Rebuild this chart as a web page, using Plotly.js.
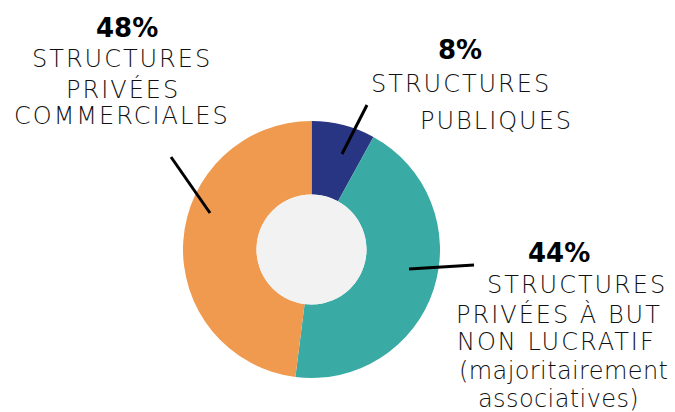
<!DOCTYPE html>
<html>
<head>
<meta charset="utf-8">
<script src="https://cdn.plot.ly/plotly-3.0.1.min.js"></script>
<style>html,body{margin:0;padding:0;background:#fff;}#chart{width:675px;height:412px;}</style>
</head>
<body>
<div id="chart"></div>
<script>
var categories = ["STRUCTURES PUBLIQUES", "STRUCTURES PRIVÉES À BUT NON LUCRATIF (majoritairement associatives)", "STRUCTURES PRIVÉES COMMERCIALES"];
var values = [8, 44, 48];
var colors = ["#283583", "#3AAAA5", "#F09A50"];
var pctLabels = ["8%", "44%", "48%"];
var labelLines = [
  ["STRUCTURES", "PUBLIQUES"],
  ["STRUCTURES", "PRIVÉES À BUT", "NON LUCRATIF", "(majoritairement", "associatives)"],
  ["STRUCTURES", "PRIVÉES", "COMMERCIALES"]
];

var W = 675, H = 412;
function fx(p){ return p / W; }
function fy(p){ return 1 - p / H; }

var cx = 311.5, cy = 249.5, R = 128.5, r = 55;

var FONT = "DejaVu Sans";
var pctFont = {family: FONT, size: 26, color: "#000", weight: 700};
var lblFont = {family: FONT, size: 24, color: "#111", weight: 200};

// label positions (center x, center y in px)
var pctPos = [[460, 50], [559, 253], [127, 28]];
var linePos = [
  [[461, 84], [496, 121]],
  [[577, 285], [559, 314], [556, 342], [563, 371], [558, 399]],
  [[122, 59], [123, 89], [122, 116]]
];
var leaders = [
  [[367, 105], [342, 154]],
  [[409, 269], [474, 265]],
  [[171, 157], [210, 213]]
];

function spaced(t){
  var ls = (t === t.toUpperCase()) ? "2px" : "0.4px";
  return '<span style="letter-spacing:' + ls + '">' + t + '</span>';
}

var annotations = [];
for (var i = 0; i < categories.length; i++) {
  annotations.push({xref:"paper", yref:"paper", x: fx(pctPos[i][0]), y: fy(pctPos[i][1]),
    text: pctLabels[i], showarrow:false, xanchor:"center", yanchor:"middle", font: pctFont});
  for (var j = 0; j < labelLines[i].length; j++) {
    annotations.push({xref:"paper", yref:"paper", x: fx(linePos[i][j][0]), y: fy(linePos[i][j][1]),
      text: spaced(labelLines[i][j]), showarrow:false, xanchor:"center", yanchor:"middle", font: lblFont});
  }
}

var shapes = [{type:"circle", xref:"paper", yref:"paper",
  x0: fx(cx - r), x1: fx(cx + r), y0: fy(cy + r), y1: fy(cy - r),
  fillcolor:"#F2F2F2", line:{width:0}, layer:"above"}];
leaders.forEach(function(l){
  shapes.push({type:"line", xref:"paper", yref:"paper",
    x0: fx(l[0][0]), y0: fy(l[0][1]), x1: fx(l[1][0]), y1: fy(l[1][1]),
    line:{color:"#000", width:3}});
});

var trace = {
  type: "pie",
  labels: categories,
  values: values,
  marker: {colors: colors, line: {width: 0}},
  sort: false,
  direction: "clockwise",
  rotation: 0,
  hole: r / R,
  textinfo: "none",
  hoverinfo: "label+percent",
  domain: {x: [fx(cx - R), fx(cx + R)], y: [fy(cy + R), fy(cy - R)]}
};

var layout = {
  width: W, height: H,
  margin: {l:0, r:0, t:0, b:0},
  paper_bgcolor: "#fff",
  showlegend: false,
  annotations: annotations,
  shapes: shapes
};

Plotly.newPlot("chart", [trace], layout, {displayModeBar:false, staticPlot:true});
</script>
</body>
</html>
